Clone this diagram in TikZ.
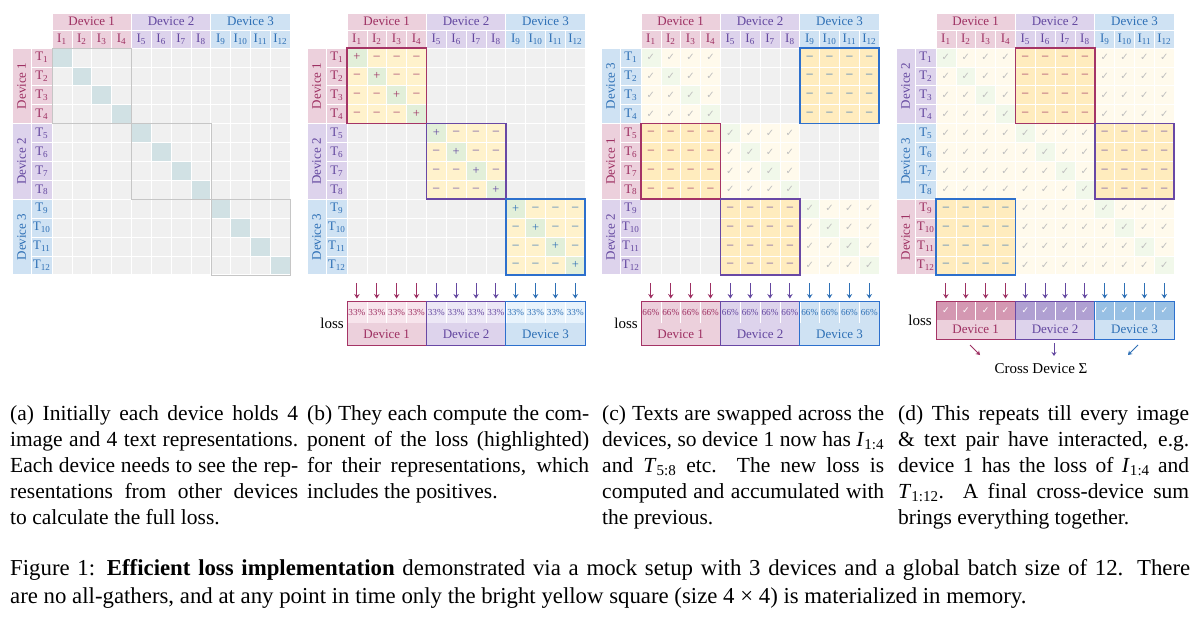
\documentclass[tikz,border=0pt]{standalone}
\usepackage{fontspec}
\setmainfont{Liberation Serif}
\newfontfamily\symf{DejaVu Sans}
\usetikzlibrary{arrows.meta}
\definecolor{dt1}{RGB}{158,48,98}
\definecolor{dt2}{RGB}{100,72,160}
\definecolor{dt3}{RGB}{46,112,182}
\definecolor{df1}{RGB}{236,208,220}
\definecolor{df2}{RGB}{221,211,236}
\definecolor{df3}{RGB}{207,226,243}
\definecolor{dl1}{RGB}{247,228,236}
\definecolor{dl2}{RGB}{236,231,246}
\definecolor{dl3}{RGB}{232,243,252}
\definecolor{dk1}{RGB}{212,152,178}
\definecolor{dk2}{RGB}{176,160,210}
\definecolor{dk3}{RGB}{152,192,228}
\definecolor{db1}{RGB}{165,52,102}
\definecolor{db2}{RGB}{105,72,165}
\definecolor{db3}{RGB}{45,112,205}
\definecolor{cellg}{RGB}{240,240,240}
\definecolor{diaga}{RGB}{209,225,228}
\definecolor{yelb}{RGB}{255,242,204}
\definecolor{grnb}{RGB}{226,239,217}
\definecolor{yelc}{RGB}{255,236,190}
\definecolor{fadey}{RGB}{255,250,236}
\definecolor{fadeg}{RGB}{241,248,234}
\definecolor{chk}{RGB}{190,190,190}
\newcommand\cellw{19.85}
\newcommand\cellh{18.9}
\newcommand\gridy{48}
\newcommand\chkmark{{\symf\fontsize{10}{10}\selectfont ✓}}
\newcommand\wchk{{\symf\bfseries\fontsize{9}{9}\selectfont ✓}}
\tikzset{
 cellst/.style={draw=white, line width=0.7pt, minimum width=\cellw, minimum height=\cellh, inner sep=0pt, outer sep=0pt, font=\fontsize{12.5}{12.5}\selectfont},
 hdst/.style={draw=white, line width=0.7pt, inner sep=0pt, outer sep=0pt, minimum height=17, font=\fontsize{13}{13}\selectfont},
 lblst/.style={draw=white, line width=0.7pt, inner sep=0pt, outer sep=0pt, minimum width=\cellw, minimum height=18, font=\fontsize{13}{13}\selectfont},
 pctst/.style={draw=white, line width=0.6pt, inner sep=0pt, outer sep=0pt, minimum width=\cellw, minimum height=22, font=\fontsize{9.2}{9.2}\selectfont},
 lossdev/.style={inner sep=0pt, outer sep=0pt, minimum width=4*\cellw, minimum height=22, font=\fontsize{13}{13}\selectfont},
 arr/.style={line width=1pt, -{Stealth[length=4.5pt,width=5.5pt,inset=1.5pt]}, shorten >=2.5pt},
 sarr/.style={line width=1pt, -{Stealth[length=4pt,width=5pt,inset=1.3pt]}},
 blk/.style={line width=1.6pt},
 losslbl/.style={inner sep=0pt, font=\fontsize{15}{15}\selectfont},
 captxt/.style={anchor=north west, align=left, inner sep=0pt, font=\fontsize{21.5}{26}\selectfont},
}
\newcommand\panelframe[3]{%
 \foreach \k in {1,2,3}{%
   \pgfmathsetmacro\xx{#2+(\k-1)*4*\cellw+2*\cellw}%
   \node[hdst, fill=df\k, text=dt\k, minimum width=4*\cellw] (#1-hd-\k) at (\xx,21.5) {Device \k};%
   \foreach \ii in {1,...,4}{%
     \pgfmathtruncatemacro\nn{(\k-1)*4+\ii}%
     \pgfmathsetmacro\xx{#2+(\nn-0.5)*\cellw}%
     \node[lblst, fill=df\k, text=dt\k] (#1-hi-\nn) at (\xx,39) {I\textsubscript{\nn}};%
   }%
 }%
 \foreach \j/\dv in {#3}{%
   \pgfmathsetmacro\yy{\gridy+(\j-1)*4*\cellh+2*\cellh}%
   \pgfmathsetmacro\xx{#2-30.25}%
   \node[hdst, rotate=90, fill=df\dv, text=dt\dv, minimum width=4*\cellh, minimum height=19.5] (#1-vd-\j) at (\xx,\yy) {Device \dv};%
   \foreach \ii in {1,...,4}{%
     \pgfmathtruncatemacro\nn{(\j-1)*4+\ii}%
     \pgfmathsetmacro\yy{\gridy+(\nn-0.5)*\cellh}%
     \pgfmathsetmacro\xx{#2-10.25}%
     \node[lblst, fill=df\dv, text=dt\dv, minimum width=20.5, minimum height=\cellh] (#1-t-\nn) at (\xx,\yy) {T\textsubscript{\nn}};%
   }%
 }%
}
\begin{document}
\begin{tikzpicture}[x=1pt,y=-1pt]
\useasboundingbox[fill=white] (0,0) rectangle (1200,622);
% ---------- panel a
\panelframe{a}{52}{1/1,2/2,3/3}
\foreach \ri in {1,...,12}{\foreach \ci in {1,...,12}{%
 \pgfmathsetmacro\xx{52+(\ci-0.5)*\cellw}%
 \pgfmathsetmacro\yy{\gridy+(\ri-0.5)*\cellh}%
 \ifnum\ri=\ci\relax\def\cf{diaga}\else\def\cf{cellg}\fi
 \node[cellst, fill=\cf] (a-\ri-\ci) at (\xx,\yy) {};
}}
\draw[gray!45, line width=0.6pt] (a-1-1.north west) rectangle (a-4-4.south east);
\draw[gray!45, line width=0.6pt] (a-5-5.north west) rectangle (a-8-8.south east);
\draw[gray!45, line width=0.6pt] (a-9-9.north west) rectangle (a-12-12.south east);
% ---------- panel b
\panelframe{b}{347}{1/1,2/2,3/3}
\foreach \ri in {1,...,12}{\foreach \ci in {1,...,12}{%
 \pgfmathsetmacro\xx{347+(\ci-0.5)*\cellw}%
 \pgfmathsetmacro\yy{\gridy+(\ri-0.5)*\cellh}%
 \pgfmathtruncatemacro\br{(\ri-1)/4+1}%
 \pgfmathtruncatemacro\bc{(\ci-1)/4+1}%
 \ifnum\br=\bc\relax
   \ifnum\ri=\ci\relax\def\cf{grnb}\def\ct{+}\else\def\cf{yelb}\def\ct{–}\fi
 \else\def\cf{cellg}\def\ct{}\fi
 \node[cellst, fill=\cf, text=dt\br] (b-\ri-\ci) at (\xx,\yy) {\ct};
}}
\draw[blk, draw=db1] (b-1-1.north west) rectangle (b-4-4.south east);
\draw[blk, draw=db2] (b-5-5.north west) rectangle (b-8-8.south east);
\draw[blk, draw=db3] (b-9-9.north west) rectangle (b-12-12.south east);
% ---------- panel c
\panelframe{c}{641}{1/3,2/1,3/2}
\foreach \ri in {1,...,12}{\foreach \ci in {1,...,12}{%
 \pgfmathsetmacro\xx{641+(\ci-0.5)*\cellw}%
 \pgfmathsetmacro\yy{\gridy+(\ri-0.5)*\cellh}%
 \pgfmathtruncatemacro\br{(\ri-1)/4+1}%
 \pgfmathtruncatemacro\bc{(\ci-1)/4+1}%
 \pgfmathtruncatemacro\hl{mod(\br-\bc+3,3)}%
 \ifnum\hl=1\relax\def\cf{yelc}\def\ct{–}\edef\tc{dt\bc}%
 \else\ifnum\hl=0\relax
   \ifnum\ri=\ci\relax\def\cf{fadeg}\else\def\cf{fadey}\fi
   \def\ct{\chkmark}\def\tc{chk}%
 \else\def\cf{cellg}\def\ct{}\def\tc{black}\fi\fi
 \node[cellst, fill=\cf, text=\tc] (c-\ri-\ci) at (\xx,\yy) {\ct};
}}
\draw[blk, draw=db3] (c-1-9.north west) rectangle (c-4-12.south east);
\draw[blk, draw=db1] (c-5-1.north west) rectangle (c-8-4.south east);
\draw[blk, draw=db2] (c-9-5.north west) rectangle (c-12-8.south east);
% ---------- panel d
\panelframe{d}{936}{1/2,2/3,3/1}
\foreach \ri in {1,...,12}{\foreach \ci in {1,...,12}{%
 \pgfmathsetmacro\xx{936+(\ci-0.5)*\cellw}%
 \pgfmathsetmacro\yy{\gridy+(\ri-0.5)*\cellh}%
 \pgfmathtruncatemacro\br{(\ri-1)/4+1}%
 \pgfmathtruncatemacro\bc{(\ci-1)/4+1}%
 \pgfmathtruncatemacro\hl{mod(\bc-\br+3,3)}%
 \ifnum\hl=1\relax\def\cf{yelc}\def\ct{–}\edef\tc{dt\br}%
 \else
   \ifnum\ri=\ci\relax\def\cf{fadeg}\else\def\cf{fadey}\fi
   \def\ct{\chkmark}\def\tc{chk}%
 \fi
 \node[cellst, fill=\cf, text=\tc] (d-\ri-\ci) at (\xx,\yy) {\ct};
}}
\draw[blk, draw=db1] (d-1-5.north west) rectangle (d-4-8.south east);
\draw[blk, draw=db2] (d-5-9.north west) rectangle (d-8-12.south east);
\draw[blk, draw=db3] (d-9-1.north west) rectangle (d-12-4.south east);
% ---------- loss rows b and c
\foreach \p/\X/\pc/\tf in {b/347/33/dl,c/641/66/df}{%
 \foreach \k in {1,2,3}{%
  \foreach \ii in {1,...,4}{%
   \pgfmathtruncatemacro\nn{(\k-1)*4+\ii}%
   \pgfmathsetmacro\xx{\X+(\nn-0.5)*\cellw}%
   \node[pctst, fill=\tf\k, text=dt\k] (\p-lp-\nn) at (\xx,312) {\pc\%};
   \coordinate (\p-ar-\nn) at (\xx,283);
   \draw[arr, draw=dt\k] (\p-ar-\nn) -- (\p-lp-\nn);
  }%
  \pgfmathsetmacro\xd{\X+(\k-1)*4*\cellw+2*\cellw}%
  \pgfmathtruncatemacro\nf{(\k-1)*4+1}%
  \node[lossdev, fill=df\k, text=dt\k] (\p-ld-\k) at (\xd,334) {Device \k};
  \draw[line width=1pt, draw=db\k] (\p-lp-\nf.north west) rectangle (\p-ld-\k.south east);
 }%
}
\node[losslbl] (b-loss) at (332,323) {loss};
\node[losslbl] (c-loss) at (626,323) {loss};
% ---------- loss row d
\foreach \k in {1,2,3}{%
 \foreach \ii in {1,...,4}{%
  \pgfmathtruncatemacro\nn{(\k-1)*4+\ii}%
  \pgfmathsetmacro\xx{936+(\nn-0.5)*\cellw}%
  \node[pctst, minimum height=19, fill=dk\k, text=white] (d-lp-\nn) at (\xx,310.5) {\wchk};
  \coordinate (d-ar-\nn) at (\xx,283);
  \draw[arr, draw=dt\k] (d-ar-\nn) -- (d-lp-\nn);
 }%
 \pgfmathsetmacro\xd{936+(\k-1)*4*\cellw+2*\cellw}%
 \pgfmathtruncatemacro\nf{(\k-1)*4+1}%
 \node[lossdev, minimum height=19, fill=df\k, text=dt\k] (d-ld-\k) at (\xd,329.5) {Device \k};
 \draw[line width=1pt, draw=db\k] (d-lp-\nf.north west) rectangle (d-ld-\k.south east);
}
\node[losslbl] (d-loss) at (920,320) {loss};
\coordinate (s1a) at (970,345); \coordinate (s1b) at (980,355);
\coordinate (s2a) at (1054,343); \coordinate (s2b) at (1054,356);
\coordinate (s3a) at (1138,345); \coordinate (s3b) at (1128,355);
\draw[sarr, draw=dt1] (s1a) -- (s1b);
\draw[sarr, draw=dt2] (s2a) -- (s2b);
\draw[sarr, draw=dt3] (s3a) -- (s3b);
\node[inner sep=0pt, font=\fontsize{15}{15}\selectfont] (sum) at (1041,369) {Cross Device Σ};
% ---------- captions
\node[captxt] (capa) at (10,405) {\makebox[288pt][s]{(a) Initially each device holds 4}\\
\makebox[288pt][s]{image and 4 text representations.}\\
\makebox[288pt][s]{Each device needs to see the rep-}\\
\makebox[288pt][s]{resentations from other devices}\\
to calculate the full loss.};
\node[captxt] (capb) at (307,405) {\makebox[282pt][s]{(b) They each compute the com-}\\
\makebox[282pt][s]{ponent of the loss (highlighted)}\\
\makebox[282pt][s]{for their representations, which}\\
includes the positives.};
\node[captxt] (capc) at (602,405) {\makebox[282pt][s]{(c) Texts are swapped across the}\\
\makebox[282pt][s]{devices, so device 1 now has \textit{I}\textsubscript{1:4}}\\
\makebox[282pt][s]{and \textit{T}\textsubscript{5:8} etc.\ \ The new loss is}\\
\makebox[282pt][s]{computed and accumulated with}\\
the previous.};
\node[captxt] (capd) at (898,405) {\makebox[291pt][s]{(d) This repeats till every image}\\
\makebox[291pt][s]{\& text pair have interacted, e.g.}\\
\makebox[291pt][s]{device 1 has the loss of \textit{I}\textsubscript{1:4} and}\\
\makebox[291pt][s]{\textit{T}\textsubscript{1:12}.\ \ A final cross-device sum}\\
brings everything together.};
\node[captxt, font=\fontsize{22.8}{28}\selectfont] (capfig) at (10,559) {\makebox[1180pt][s]{Figure 1: \textbf{Efficient loss implementation} demonstrated via a mock setup with 3 devices and a global batch size of 12. There}\\
are no all-gathers, and at any point in time only the bright yellow square (size 4 × 4) is materialized in memory.};
\end{tikzpicture}
\end{document}
